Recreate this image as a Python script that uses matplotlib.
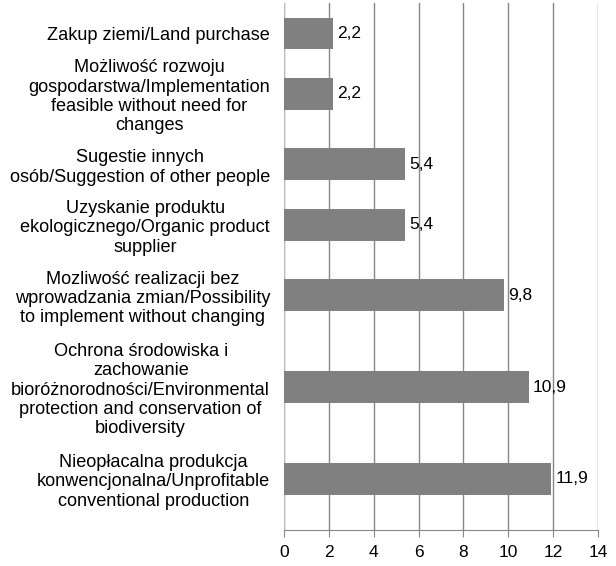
import matplotlib
matplotlib.use("Agg")
import matplotlib.pyplot as plt
import numpy as np

plt.rcParams['font.family'] = ['Liberation Sans', 'DejaVu Sans']

categories = [
    "Zakup ziemi/Land purchase",
    "Możliwość rozwoju\ngospodarstwa/Implementation\nfeasible without need for\nchanges",
    "Sugestie innych\nosób/Suggestion of other people",
    "Uzyskanie produktu\nekologicznego/Organic product\nsupplier",
    "Mozliwość realizacji bez\nwprowadzania zmian/Possibility\nto implement without changing",
    "Ochrona środowiska i\nzachowanie\nbioróżnorodności/Environmental\nprotection and conservation of\nbiodiversity",
    "Nieopłacalna produkcja\nkonwencjonalna/Unprofitable\nconventional production",
]
values = [2.2, 2.2, 5.4, 5.4, 9.8, 10.9, 11.9]
value_labels = ["2,2", "2,2", "5,4", "5,4", "9,8", "10,9", "11,9"]
x_ticks = [0, 2, 4, 6, 8, 10, 12, 14]

# Category slots sized by how many lines each label needs (layout only)
line_h, slot_pad = 21.0, 8.0
n_lines = np.array([c.count("\n") + 1 for c in categories])
gaps = line_h * (n_lines[:-1] + n_lines[1:]) / 2 + slot_pad
pos = np.concatenate([[0.0], np.cumsum(gaps)])
top_margin = 0.5 * line_h * n_lines[0] + 20
bottom_margin = 0.5 * line_h * n_lines[-1] + 20

fig = plt.figure(figsize=(6.16, 5.66), dpi=100)
ax = fig.add_axes([0.461, 0.0636, 0.51, 0.931])

ax.barh(pos, values, height=32, color="#808080", zorder=3)
for yi, v, lab in zip(pos, values, value_labels):
    ax.annotate(lab, (v, yi), xytext=(3, 0), textcoords="offset points",
                va="center", ha="left", fontsize=12.5, color="black", zorder=4)

ax.set_xlim(0, 14)
ax.set_ylim(pos[-1] + bottom_margin, pos[0] - top_margin)
ax.set_xticks(x_ticks)
ax.set_xticklabels([str(t) for t in x_ticks], fontsize=12.5)
ax.set_yticks(pos)
ax.set_yticklabels(categories, fontsize=13.1, linespacing=1.17)
for t in ax.get_yticklabels():
    t.set_horizontalalignment("right")
    t.set_multialignment("center")
ax.tick_params(axis="y", which="major", length=0, pad=10)
ax.tick_params(axis="x", length=5, color="#868686", pad=6)

ax.grid(axis="x", color="#868686", linewidth=1.0, zorder=0)
for s in ["top", "right"]:
    ax.spines[s].set_visible(False)
ax.spines["left"].set_color("#bdbdbd")
ax.spines["bottom"].set_color("#868686")

fig.savefig("out.png", dpi=100)
